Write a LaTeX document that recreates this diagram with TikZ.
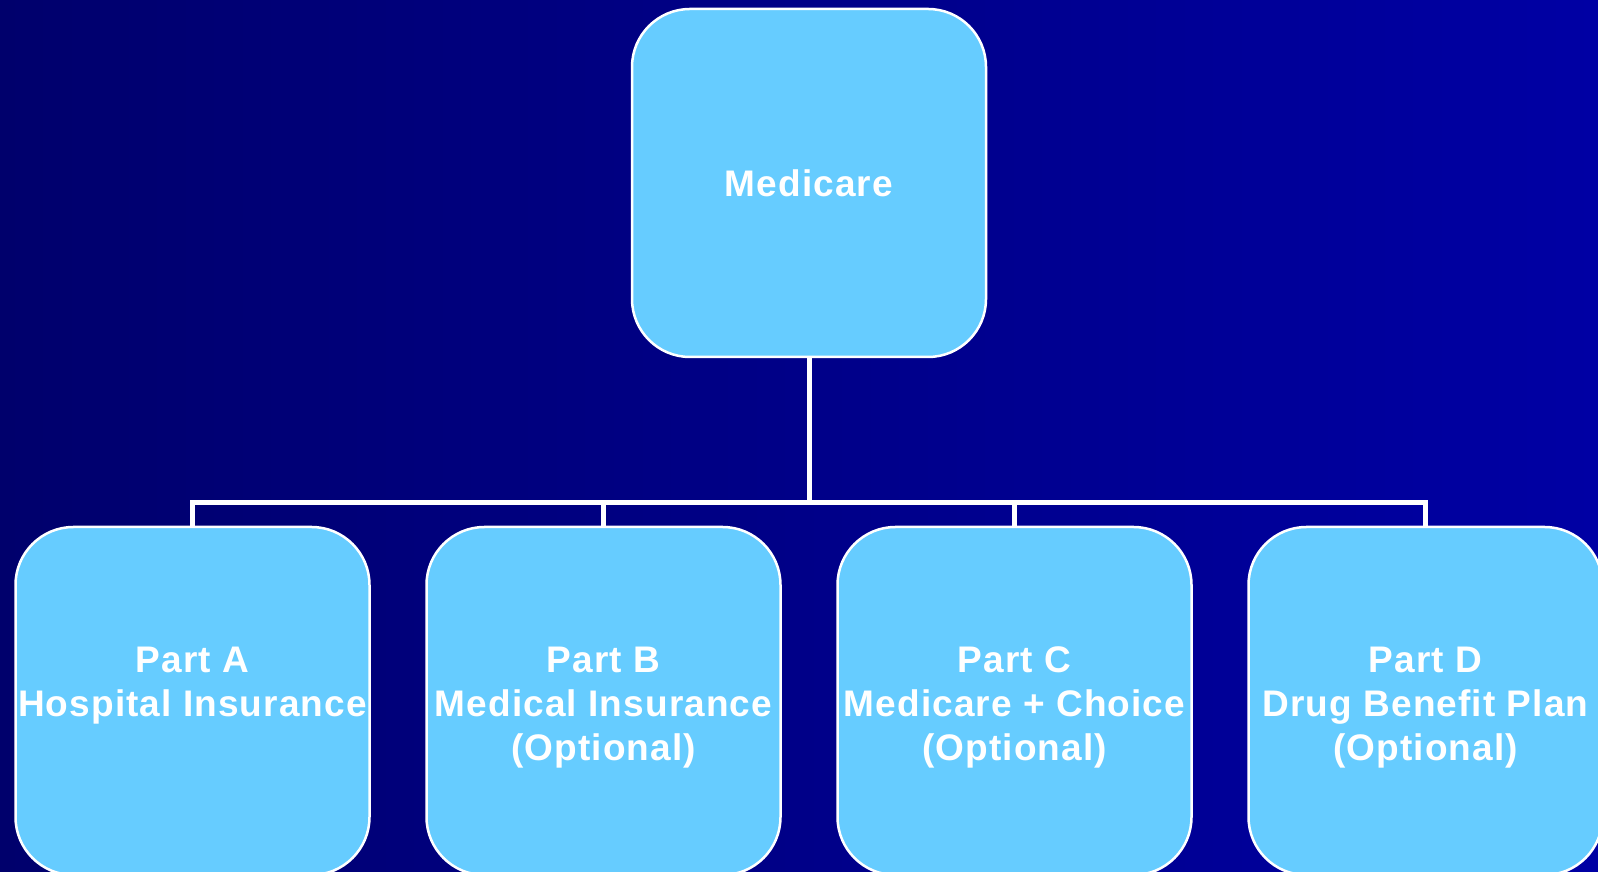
\documentclass[tikz,border=0pt]{standalone}
\usepackage{fontspec}
\setmainfont{Liberation Sans}[LetterSpace=3]
\usepackage{xcolor}
\definecolor{navyleft}{RGB}{0,0,108}
\definecolor{navyright}{RGB}{0,0,164}
\definecolor{partblue}{RGB}{102,204,255}

\begin{document}
\begin{tikzpicture}[x=1pt,y=1pt,node distance=411pt,
  every node/.style={draw=white,line width=2.5pt,fill=partblue,rounded corners=58pt,
                     align=center,text=white,font=\fontsize{37}{44}\selectfont\bfseries,
                     minimum width=354pt,minimum height=348pt,inner sep=0pt},
  part/.style={text height=127pt}]
\fill[left color=navyleft,right color=navyright] (0,0) rectangle (1598,872);
\useasboundingbox (0,0) rectangle (1598,872);

\node (medicare) at (809,689) {Medicare};
\node (partA) [part] at (192.5,171) {Part A\\Hospital Insurance\\\phantom{(Optional)}};
\node (partB) [part,right of=partA] {Part B\\Medical Insurance\\(Optional)};
\node (partC) [part,right of=partB] {Part C\\Medicare + Choice\\(Optional)};
\node (partD) [part,right of=partC] {Part D\\Drug Benefit Plan\\(Optional)};

\coordinate (bus) at (809,369);
\draw[white,line width=5pt] (medicare) -- (bus);
\draw[white,line width=5pt] (partA) |- (bus) -| (partD);
\draw[white,line width=5pt] (partB) -- (partB |- bus);
\draw[white,line width=5pt] (partC) -- (partC |- bus);
\end{tikzpicture}
\end{document}
